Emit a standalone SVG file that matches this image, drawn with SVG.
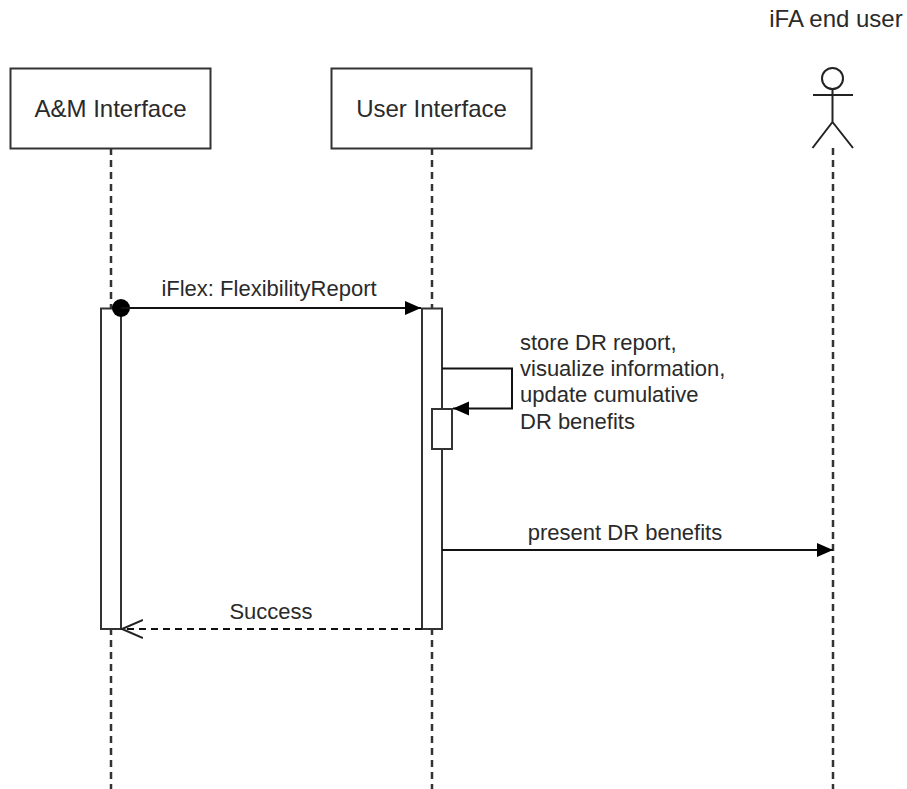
<svg xmlns="http://www.w3.org/2000/svg" width="907" height="789" viewBox="0 0 907 789">
<style>
text{font-family:"Liberation Sans",Arial,sans-serif;font-size:22px;fill:#2a2a2a}
text.big{font-size:24px}
.box{fill:#fff;stroke:#333;stroke-width:2}
.life{fill:none;stroke:#333;stroke-width:2.500;stroke-dasharray:7 5}
.msg{fill:none;stroke:#111;stroke-width:2}
</style>
<defs>
<marker id="solid" markerUnits="userSpaceOnUse" markerWidth="18" markerHeight="16" refX="16" refY="8" orient="auto"><path d="M0 1L16 8L0 15Z" fill="#000"/></marker>
<marker id="open" markerUnits="userSpaceOnUse" markerWidth="24" markerHeight="24" refX="21" refY="12" orient="auto"><path d="M0 3L21 12L0 21" fill="none" stroke="#222" stroke-width="2"/></marker>
</defs>
<rect width="907" height="789" fill="#fff"/>
<g id="lifelines">
<path class="life" d="M111 148V789"/>
<path class="life" d="M432 148V789"/>
<path class="life" d="M833 148V789"/>
</g>
<g id="a-m-interface">
<rect class="box" x="10.500" y="68.500" width="200" height="80"/>
<text class="big" x="110.500" y="116.500" text-anchor="middle">A&amp;M Interface</text>
<rect class="box" x="101" y="308.500" width="20" height="320.500"/>
</g>
<g id="user-interface">
<rect class="box" x="331.500" y="68.500" width="200" height="80"/>
<text class="big" x="431.500" y="116.500" text-anchor="middle">User Interface</text>
<rect class="box" x="422" y="308.500" width="20" height="320.500"/>
<rect class="box" x="432" y="409" width="20" height="40"/>
</g>
<g id="ifa-end-user">
<text class="big" x="836" y="27" text-anchor="middle">iFA end user</text>
<g fill="none" stroke="#222" stroke-width="2">
<circle cx="832.500" cy="78.500" r="10.500"/>
<path d="M832.500 89V122M813 95H853M832.500 122L812.500 148M832.500 122L853 148"/>
</g>
</g>
<g id="connectors">
<circle cx="121" cy="308" r="9" fill="#000"/>
<path class="msg" d="M121 308H421" marker-end="url(#solid)"/>
<text x="269" y="296" text-anchor="middle">iFlex: FlexibilityReport</text>
<path class="msg" d="M442 368.500H512V408.500H453" marker-end="url(#solid)"/>
<text x="520" y="350">store DR report,</text>
<text x="520" y="376">visualize information,</text>
<text x="520" y="402">update cumulative</text>
<text x="520" y="429">DR benefits</text>
<path class="msg" d="M442 550H833" marker-end="url(#solid)"/>
<text x="625" y="540" text-anchor="middle">present DR benefits</text>
<path class="msg" stroke-dasharray="7 5" d="M422 629H122" marker-end="url(#open)"/>
<text x="271" y="619" text-anchor="middle">Success</text>
</g>
</svg>
